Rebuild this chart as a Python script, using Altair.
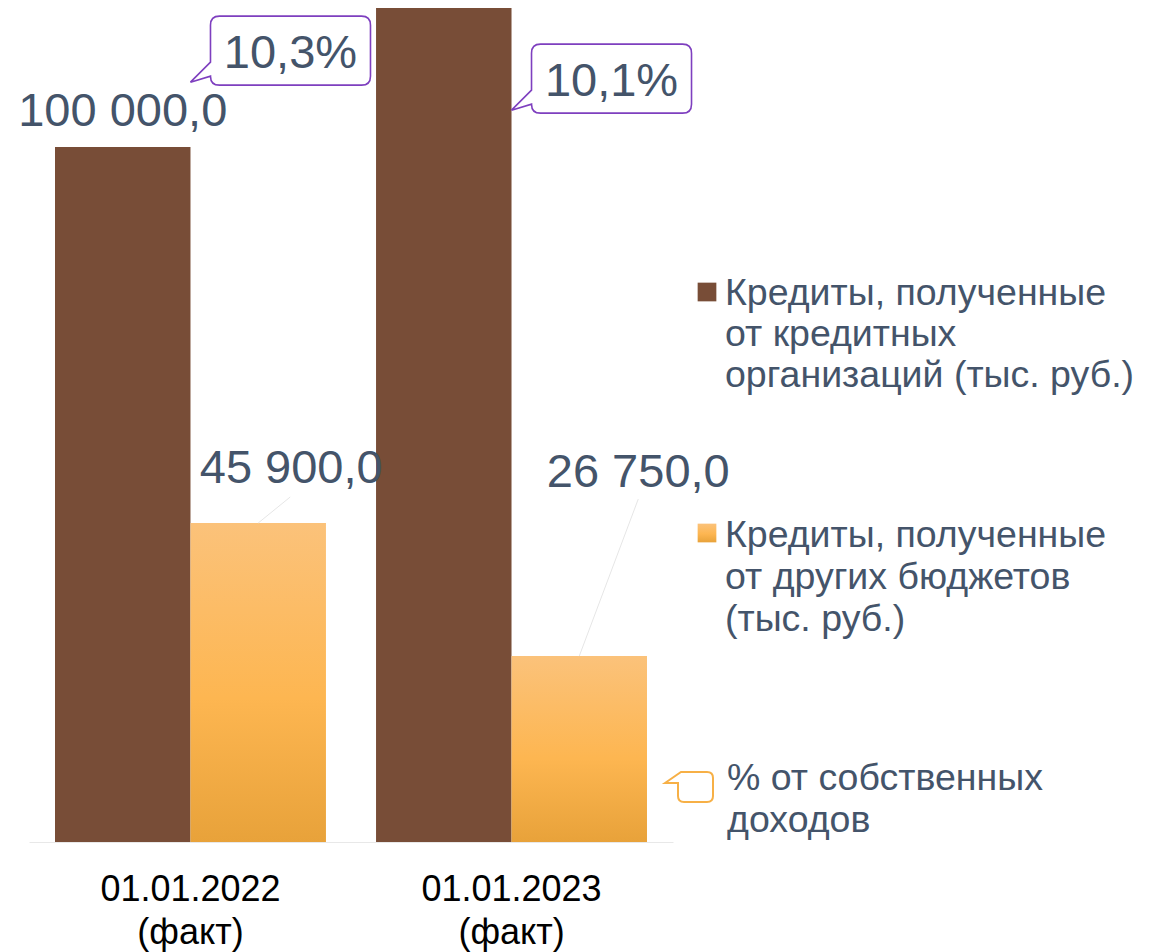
import altair as alt
import pandas as pd

# ---------------- data ----------------
DATES = ["01.01.2022 (факт)", "01.01.2023 (факт)"]
SERIES = [
    "Кредиты, полученные от кредитных организаций (тыс. руб.)",
    "Кредиты, полученные от других бюджетов (тыс. руб.)",
]
BANK_CREDITS = [100000.0, 125000.0]     # second bar runs off the top of the plot
BUDGET_CREDITS = [45900.0, 26750.0]
PCT_OWN_INCOME = [10.3, 10.1]

LEGEND_BANK = ["Кредиты, полученные", "от кредитных", "организаций (тыс. руб.)"]
LEGEND_BUDGET = ["Кредиты, полученные", "от других бюджетов", "(тыс. руб.)"]
LEGEND_PCT = ["% от собственных", "доходов"]

Y_MAX = 120000
PCT_DOMAIN = [4.87, 10.83]

# ---------------- styles ----------------
FONT = "Liberation Sans"
TXT = "#44546A"
BROWN = "#784D37"
PURPLE = "#7E3FBF"
ORANGE_LINE = "#F7B046"
ORANGE_GRAD = alt.Gradient(
    gradient="linear", x1=0, x2=0, y1=0, y2=1,
    stops=[alt.GradientStop(color="#FBC27A", offset=0),
           alt.GradientStop(color="#FDB651", offset=0.55),
           alt.GradientStop(color="#E8A23A", offset=1)],
)


def ru(v):
    return f"{v:,.1f}".replace(",", " ").replace(".", ",")


bars = pd.DataFrame({
    "date": DATES * 2,
    "series": [SERIES[0]] * len(DATES) + [SERIES[1]] * len(DATES),
    "value": BANK_CREDITS + BUDGET_CREDITS,
})
bars["label"] = bars["value"].map(ru)

pct = pd.DataFrame({"date": DATES, "pct": PCT_OWN_INCOME})
pct["label"] = pct["pct"].map(lambda v: f"{v:.1f}%".replace(".", ","))

one = pd.DataFrame({"k": [0]})

x_scale = alt.Scale(paddingInner=0.156, paddingOuter=0.081)
x_axis = alt.Axis(
    title=None, labelExpr="split(datum.label, ' ')", labelAngle=0,
    labelFont=FONT, labelFontSize=36, labelColor="#000000", labelLimit=0,
    labelLineHeight=43, labelBaseline="top", labelPadding=30,
    ticks=False, tickSize=0, domainColor="#E8E8E8", domainWidth=1,
    grid=False,
)


def X(bp=None):
    if bp is None:
        return alt.X("date:N", sort=DATES, scale=x_scale, axis=x_axis)
    return alt.X("date:N", sort=DATES, scale=x_scale, axis=x_axis, bandPosition=bp)


Y = alt.Y("value:Q", scale=alt.Scale(domain=[0, Y_MAX], nice=False, zero=True), axis=None)
YP = alt.Y("pct:Q", scale=alt.Scale(domain=PCT_DOMAIN, nice=False, zero=False), axis=None)
XO = alt.XOffset("series:N", scale=alt.Scale(domain=SERIES))

base = alt.Chart(bars)

brown_bars = base.transform_filter(alt.datum.series == SERIES[0]).mark_bar(
    color=BROWN, clip=True).encode(x=X(), xOffset=XO, y=Y)
orange_bars = base.transform_filter(alt.datum.series == SERIES[1]).mark_bar(
    color=ORANGE_GRAD, clip=True).encode(x=X(), xOffset=XO, y=Y)

# labels of bars that run past the top of the plot are hidden, as in the source
brown_labels = base.transform_filter(
    (alt.datum.series == SERIES[0]) & (alt.datum.value <= Y_MAX)
).mark_text(
    font=FONT, fontSize=47, color=TXT, align="center", baseline="alphabetic",
    dy=-21).encode(x=X(0.25), y=Y, text="label:N")

orange_label_offsets = [(33, -40), (59, -169)]
leader_paths = ["M0,0 L32,-26", "M0,0 L59,-157"]
orange_labels = []
for d, (dx, dy), lp in zip(DATES, orange_label_offsets, leader_paths):
    sub = base.transform_filter((alt.datum.series == SERIES[1]) & (alt.datum.date == d))
    orange_labels.append(sub.mark_point(
        shape=lp, size=4, filled=False, stroke="#E6E6E6", strokeWidth=1,
        opacity=1).encode(x=X(0.75), y=Y))
    orange_labels.append(sub.mark_text(
        font=FONT, fontSize=47, color=TXT, align="center", baseline="alphabetic",
        dx=dx, dy=dy).encode(x=X(0.75), y=Y, text="label:N"))

BUBBLE = ("M0,0 L20,-20 L20,-57 Q20,-66 29,-66 L171,-66 Q180,-66 180,-57 "
          "L180,-6 Q180,3 171,3 L29,3 Q20,3 20,-6 Z")
pbase = alt.Chart(pct)
bubbles = pbase.mark_point(
    shape=BUBBLE, size=4, filled=True, fill="#FFFFFF", fillOpacity=1,
    stroke=PURPLE, strokeWidth=1.6, strokeOpacity=1, opacity=1,
).encode(x=X(0.5), y=YP)
bubble_text = pbase.mark_text(
    font=FONT, fontSize=47, color=TXT, align="center", baseline="alphabetic",
    dx=100, dy=-14).encode(x=X(0.5), y=YP, text="label:N")

# ---------------- legend ----------------
lc = alt.Chart(one)
leg_sq1 = lc.mark_square(size=350, color=BROWN, opacity=1).encode(
    x=alt.value(678), y=alt.value(284))
leg_t1 = lc.mark_text(text=LEGEND_BANK, font=FONT, fontSize=37.5, lineHeight=41,
                      color=TXT, align="left", baseline="alphabetic").encode(
    x=alt.value(696), y=alt.value(297))
leg_sq2 = lc.mark_square(size=350, color=ORANGE_GRAD, opacity=1).encode(
    x=alt.value(678), y=alt.value(525))
leg_t2 = lc.mark_text(text=LEGEND_BUDGET, font=FONT, fontSize=37.5, lineHeight=42,
                      color=TXT, align="left", baseline="alphabetic").encode(
    x=alt.value(696), y=alt.value(539))
SMALL_BUBBLE = ("M0,0 L16,-11 L42,-11 Q48,-11 48,-5 L48,13 Q48,19 42,19 "
                "L19,19 Q13,19 13,13 L13,0 Z")
leg_b3 = lc.mark_point(shape=SMALL_BUBBLE, size=4, filled=True, fill="#FFFFFF",
                       fillOpacity=1, stroke=ORANGE_LINE, strokeWidth=2,
                       opacity=1).encode(x=alt.value(636), y=alt.value(775))
leg_t3 = lc.mark_text(text=LEGEND_PCT, font=FONT, fontSize=37.5, lineHeight=42,
                      color=TXT, align="left", baseline="alphabetic").encode(
    x=alt.value(698), y=alt.value(782))

chart = alt.layer(
    brown_bars, orange_bars, brown_labels, *orange_labels, bubbles, bubble_text,
    leg_sq1, leg_t1, leg_sq2, leg_t2, leg_b3, leg_t3,
).resolve_scale(y="independent").properties(
    width=644, height=834,
    autosize=alt.AutoSizeParams(type="none"),
    padding={"left": 21, "top": 0, "right": 479, "bottom": 110},
    background="#FFFFFF",
).configure_view(stroke=None)

chart.save("out.html", embed_options={"renderer": "svg", "actions": False})
